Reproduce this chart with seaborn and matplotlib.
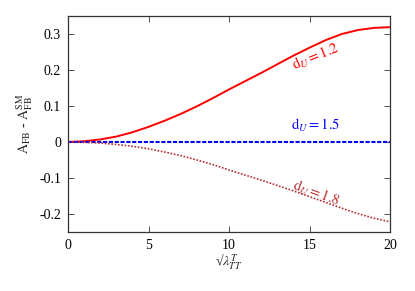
import pandas as pd
import matplotlib
matplotlib.use('Agg')
import matplotlib.pyplot as plt
import seaborn as sns

# -----------------------------
# DATA
# -----------------------------

lam = [0, 1, 2, 3, 4, 5, 6, 7, 8, 9, 10, 11, 12, 13, 14, 15, 16, 17, 18, 19, 20]

du_12 = [0, 0.002, 0.007, 0.015, 0.027, 0.042, 0.059, 0.078, 0.099, 0.122, 0.146,
         0.169, 0.192, 0.216, 0.240, 0.262, 0.283, 0.300, 0.311, 0.317, 0.319]

du_15 = [0] * 21

du_18 = [0, -0.001, -0.003, -0.007, -0.012, -0.019, -0.028, -0.038, -0.050, -0.063, -0.078,
         -0.092, -0.106, -0.121, -0.136, -0.152, -0.168, -0.184, -0.199, -0.212, -0.222]

x_ticks = [0, 5, 10, 15, 20]
y_ticks = [-0.2, -0.1, 0, 0.1, 0.2, 0.3]
y_tick_labels = ['-0.2', '-0.1', '0', '0.1', '0.2', '0.3']

df = pd.DataFrame({'lam': lam, 'd12': du_12, 'd15': du_15, 'd18': du_18})

# -----------------------------
# STYLE
# -----------------------------

sns.set_style('ticks')
plt.rcParams['font.family'] = ['Liberation Serif', 'DejaVu Serif']
plt.rcParams['mathtext.fontset'] = 'stix'
plt.rcParams['font.size'] = 10

fig = plt.figure(figsize=(4.15, 2.91), dpi=100)
ax = fig.add_axes([0.164, 0.203, 0.776, 0.742])

sns.lineplot(data=df, x='lam', y='d12', ax=ax, color='#ff0000', linewidth=1.4)
sns.lineplot(data=df, x='lam', y='d15', ax=ax, color='#0000ff', linewidth=1.5,
             linestyle=(0, (2, 0.8)))
sns.lineplot(data=df, x='lam', y='d18', ax=ax, color='#b83030', linewidth=1.2,
             linestyle=(0, (1, 1)))

ax.set_xlim(0, 20)
ax.set_ylim(-0.25, 0.35)
ax.set_xticks(x_ticks)
ax.set_yticks(y_ticks)
ax.set_yticklabels(y_tick_labels)
ax.tick_params(direction='in', top=True, right=True, labelsize=10, length=4,
               width=0.6, colors='#333333', labelcolor='black', pad=5)
for s in ax.spines.values():
    s.set_linewidth(0.9)
    s.set_color('#333333')

ax.set_xlabel(r'√$\lambda^{T}_{TT}$', fontsize=10, labelpad=1)
ax.set_ylabel(r'$\mathrm{A_{FB}}$ - $\mathrm{A^{SM}_{FB}}$', fontsize=10, labelpad=3)

# curve labels
ax.text(15.4, 0.236, r'$\mathrm{d}_U = 1.2$', color='#ff0000', fontsize=10.5,
        rotation=22, ha='center', va='center')
ax.text(15.4, 0.047, r'$\mathrm{d}_U = 1.5$', color='#0000ff', fontsize=10.5,
        ha='center', va='center')
ax.text(15.4, -0.142, r'$\mathrm{d}_U = 1.8$', color='#b83030', fontsize=10.5,
        rotation=-20, ha='center', va='center')

plt.savefig('out.png', dpi=100)
plt.close()
